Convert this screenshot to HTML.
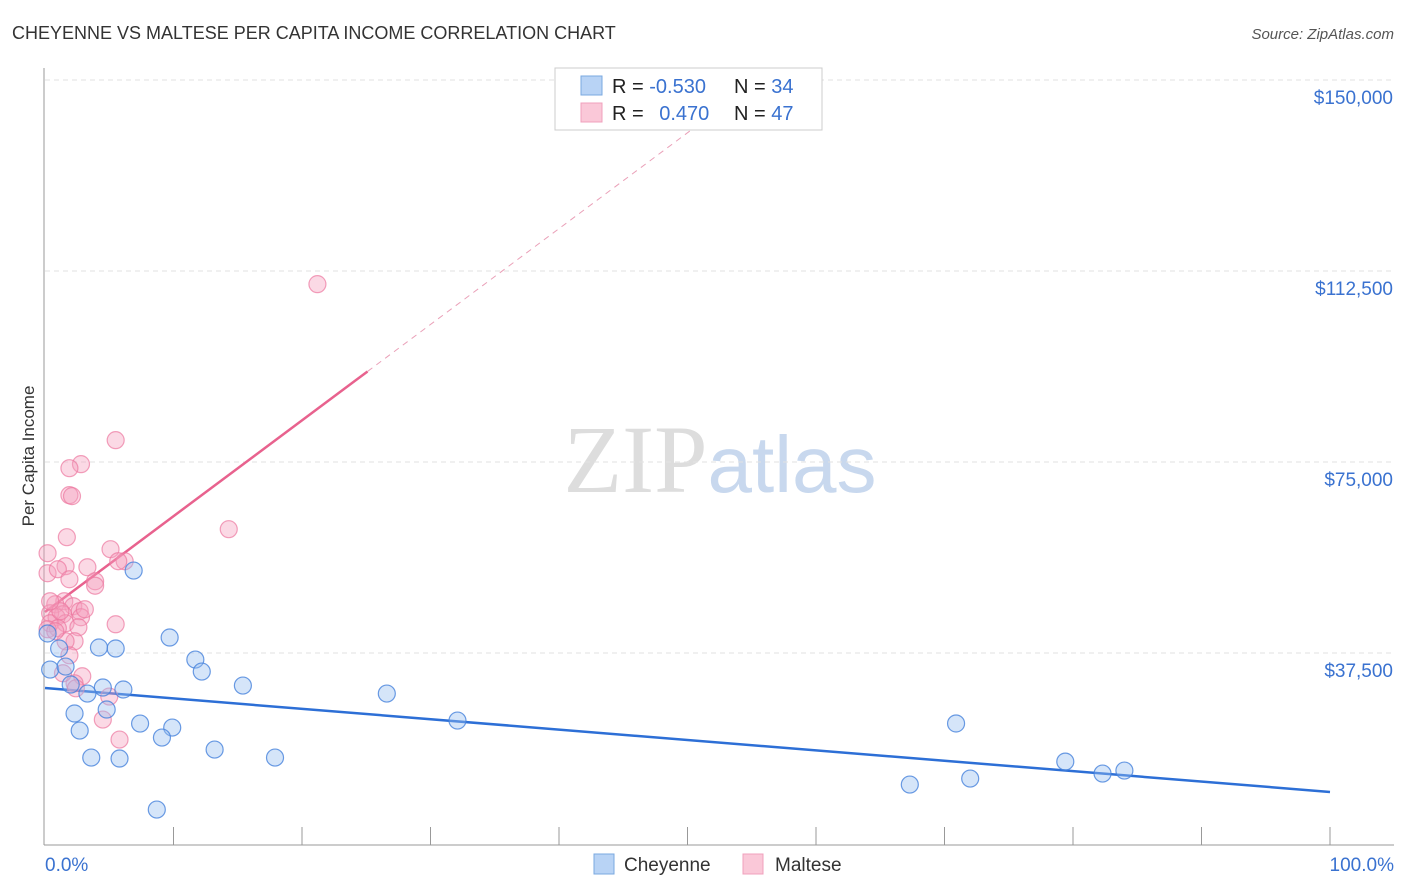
<!DOCTYPE html>
<html><head><meta charset="utf-8"><style>
body{margin:0;background:#fff;font-family:"Liberation Sans",sans-serif;}
svg{display:block}
</style></head><body>
<svg id="chart" width="1406" height="892" xmlns="http://www.w3.org/2000/svg" font-family="Liberation Sans, sans-serif">
<text x="12" y="39" font-size="18" fill="#333">CHEYENNE VS MALTESE PER CAPITA INCOME CORRELATION CHART</text>
<text x="1394" y="39" font-size="15" fill="#555" font-style="italic" text-anchor="end">Source: ZipAtlas.com</text>
<text transform="translate(34,456) rotate(-90)" font-size="17" fill="#333" text-anchor="middle">Per Capita Income</text>
<text x="720" y="492" font-size="96" text-anchor="middle"><tspan fill="#ddd" font-family="Liberation Serif, serif">ZIP</tspan><tspan fill="#c8d8ee" font-size="80">atlas</tspan></text>
<g id="grid"></g><g id="axes"></g><g id="lines"></g><g id="points"></g>
<g>
<rect x="555" y="68" width="267" height="62" fill="#fff" stroke="#ccc"/>
<rect x="581" y="76" width="21" height="19" fill="#b8d3f5" stroke="#7aa8e0"/>
<rect x="581" y="103" width="21" height="19" fill="#fac8d8" stroke="#f0a0bc"/>
<text x="612" y="93" font-size="20" fill="#222">R = <tspan fill="#3a72d0">-0.530</tspan></text>
<text x="734" y="93" font-size="20" fill="#222">N = <tspan fill="#3a72d0">34</tspan></text>
<text x="612" y="120" font-size="20" fill="#222">R = <tspan fill="#3a72d0" dx="10">0.470</tspan></text>
<text x="734" y="120" font-size="20" fill="#222">N = <tspan fill="#3a72d0">47</tspan></text>
</g>
<g>
<rect x="594" y="854" width="20" height="20" fill="#b8d3f5" stroke="#7aa8e0"/>
<text x="624" y="871" font-size="19" fill="#333">Cheyenne</text>
<rect x="743" y="854" width="20" height="20" fill="#fac8d8" stroke="#f0a0bc"/>
<text x="775" y="871" font-size="19" fill="#333">Maltese</text>
</g>
</svg>
<script>
const yTicks=[37500,75000,112500,150000];
const yTickLabels=["$37,500","$75,000","$112,500","$150,000"];
const xTickLabels=["0.0%","100.0%"];
const cheyX=[6.9,9.7,4.2,5.5,1.1,0.4,1.6,11.7,12.2,15.4,2.0,4.5,6.1,3.3,26.6,2.3,4.8,7.4,9.9,9.1,2.7,32.1,70.9,13.2,3.6,5.8,17.9,79.4,84.0,82.3,72.0,67.3,8.7,0.2];
const cheyY=[53690,40540,38580,38380,38380,34250,34840,36210,33860,31110,31310,30720,30330,29540,29540,25620,26400,23650,22860,20900,22270,24240,23660,18540,16970,16780,16970,16180,14420,13830,12850,11670,6760,41330];
const maltX=[21.2,5.5,2.8,1.9,1.9,2.1,14.3,1.7,5.1,0.2,6.2,5.7,3.3,1.6,0.2,1.0,3.9,1.5,0.8,2.2,2.7,1.4,0.4,0.9,2.8,0.4,1.6,2.6,5.5,1.0,0.2,2.3,1.6,1.9,2.9,2.3,2.4,1.4,5.0,4.5,5.8,3.1,3.9,0.8,1.2,0.4,1.9];
const maltY=[109920,79290,74580,73790,68490,68300,61810,60240,57880,57090,55520,55520,54340,54540,53160,53950,51590,47660,47070,46680,45700,45110,45310,44520,44520,43340,43340,42550,43140,42360,42160,39800,39800,37050,32930,31550,30570,33520,28950,24430,20500,46090,50710,41770,45700,47660,51980];
const cheyLine=[30620,-204];
const maltLine=[45540,1882];
const NS="http://www.w3.org/2000/svg";
const X0=45,X1=1330,YB=844,PX=191/37500;
const xs=p=>X0+(X1-X0)*p/100;
const ys=v=>YB-v*PX;
function mk(tag,attrs,parent){const e=document.createElementNS(NS,tag);for(const k in attrs)e.setAttribute(k,attrs[k]);document.getElementById(parent).appendChild(e);return e;}
yTicks.forEach((t,i)=>{
 const l=mk('line',{x1:45,y1:ys(t),x2:1394,y2:ys(t),stroke:'#e2e2e2','stroke-dasharray':'5,4'},'grid');
 
 
 const tx=mk('text',{x:1393,y:ys(t)+24,'font-size':19,fill:'#3a72d0','text-anchor':'end'},'axes');
 tx.textContent=yTickLabels[i];
 
 
});
const ya=mk('line',{x1:44,y1:68,x2:44,y2:845,stroke:'#999'},'axes');


const xa=mk('line',{x1:44,y1:845,x2:1394,y2:845,stroke:'#999'},'axes');


for(let i=1;i<=10;i++){const t=mk('line',{x1:xs(i*10),y1:827,x2:xs(i*10),y2:845,stroke:'#999'},'axes');
 
 }
[[45,'start',0],[1394,'end',1]].forEach(([x,a,i])=>{const t=mk('text',{x:x,y:871,'font-size':19,fill:'#3a72d0','text-anchor':a},'axes');t.textContent=xTickLabels[i];
 
 });
function dot(x,y,fill,stroke,name){const c=mk('circle',{cx:xs(x),cy:ys(y),r:8.5,fill:fill,stroke:stroke,'stroke-width':1.2},'points');
 
 }
maltX.forEach((x,i)=>dot(x,maltY[i],'rgba(246,160,190,0.4)','rgba(236,120,160,0.7)','maltese-point'));
cheyX.forEach((x,i)=>dot(x,cheyY[i],'rgba(150,190,240,0.4)','rgba(70,130,220,0.8)','cheyenne-point'));
const bl=mk('line',{x1:xs(0),y1:ys(cheyLine[0]),x2:xs(100),y2:ys(cheyLine[0]+100*cheyLine[1]),stroke:'#2d6fd6','stroke-width':2.5},'lines');


const pe=25.1;
const pl=mk('line',{x1:xs(0),y1:ys(maltLine[0]),x2:xs(pe),y2:ys(maltLine[0]+pe*maltLine[1]),stroke:'#e8628e','stroke-width':2.5},'lines');


const pend=(146000-maltLine[0])/maltLine[1];
const pd=mk('line',{x1:xs(pe),y1:ys(maltLine[0]+pe*maltLine[1]),x2:xs(pend),y2:ys(maltLine[0]+pend*maltLine[1]),stroke:'#eaa0b8','stroke-width':1,'stroke-dasharray':'6,5'},'lines');


</script>
</body></html>
